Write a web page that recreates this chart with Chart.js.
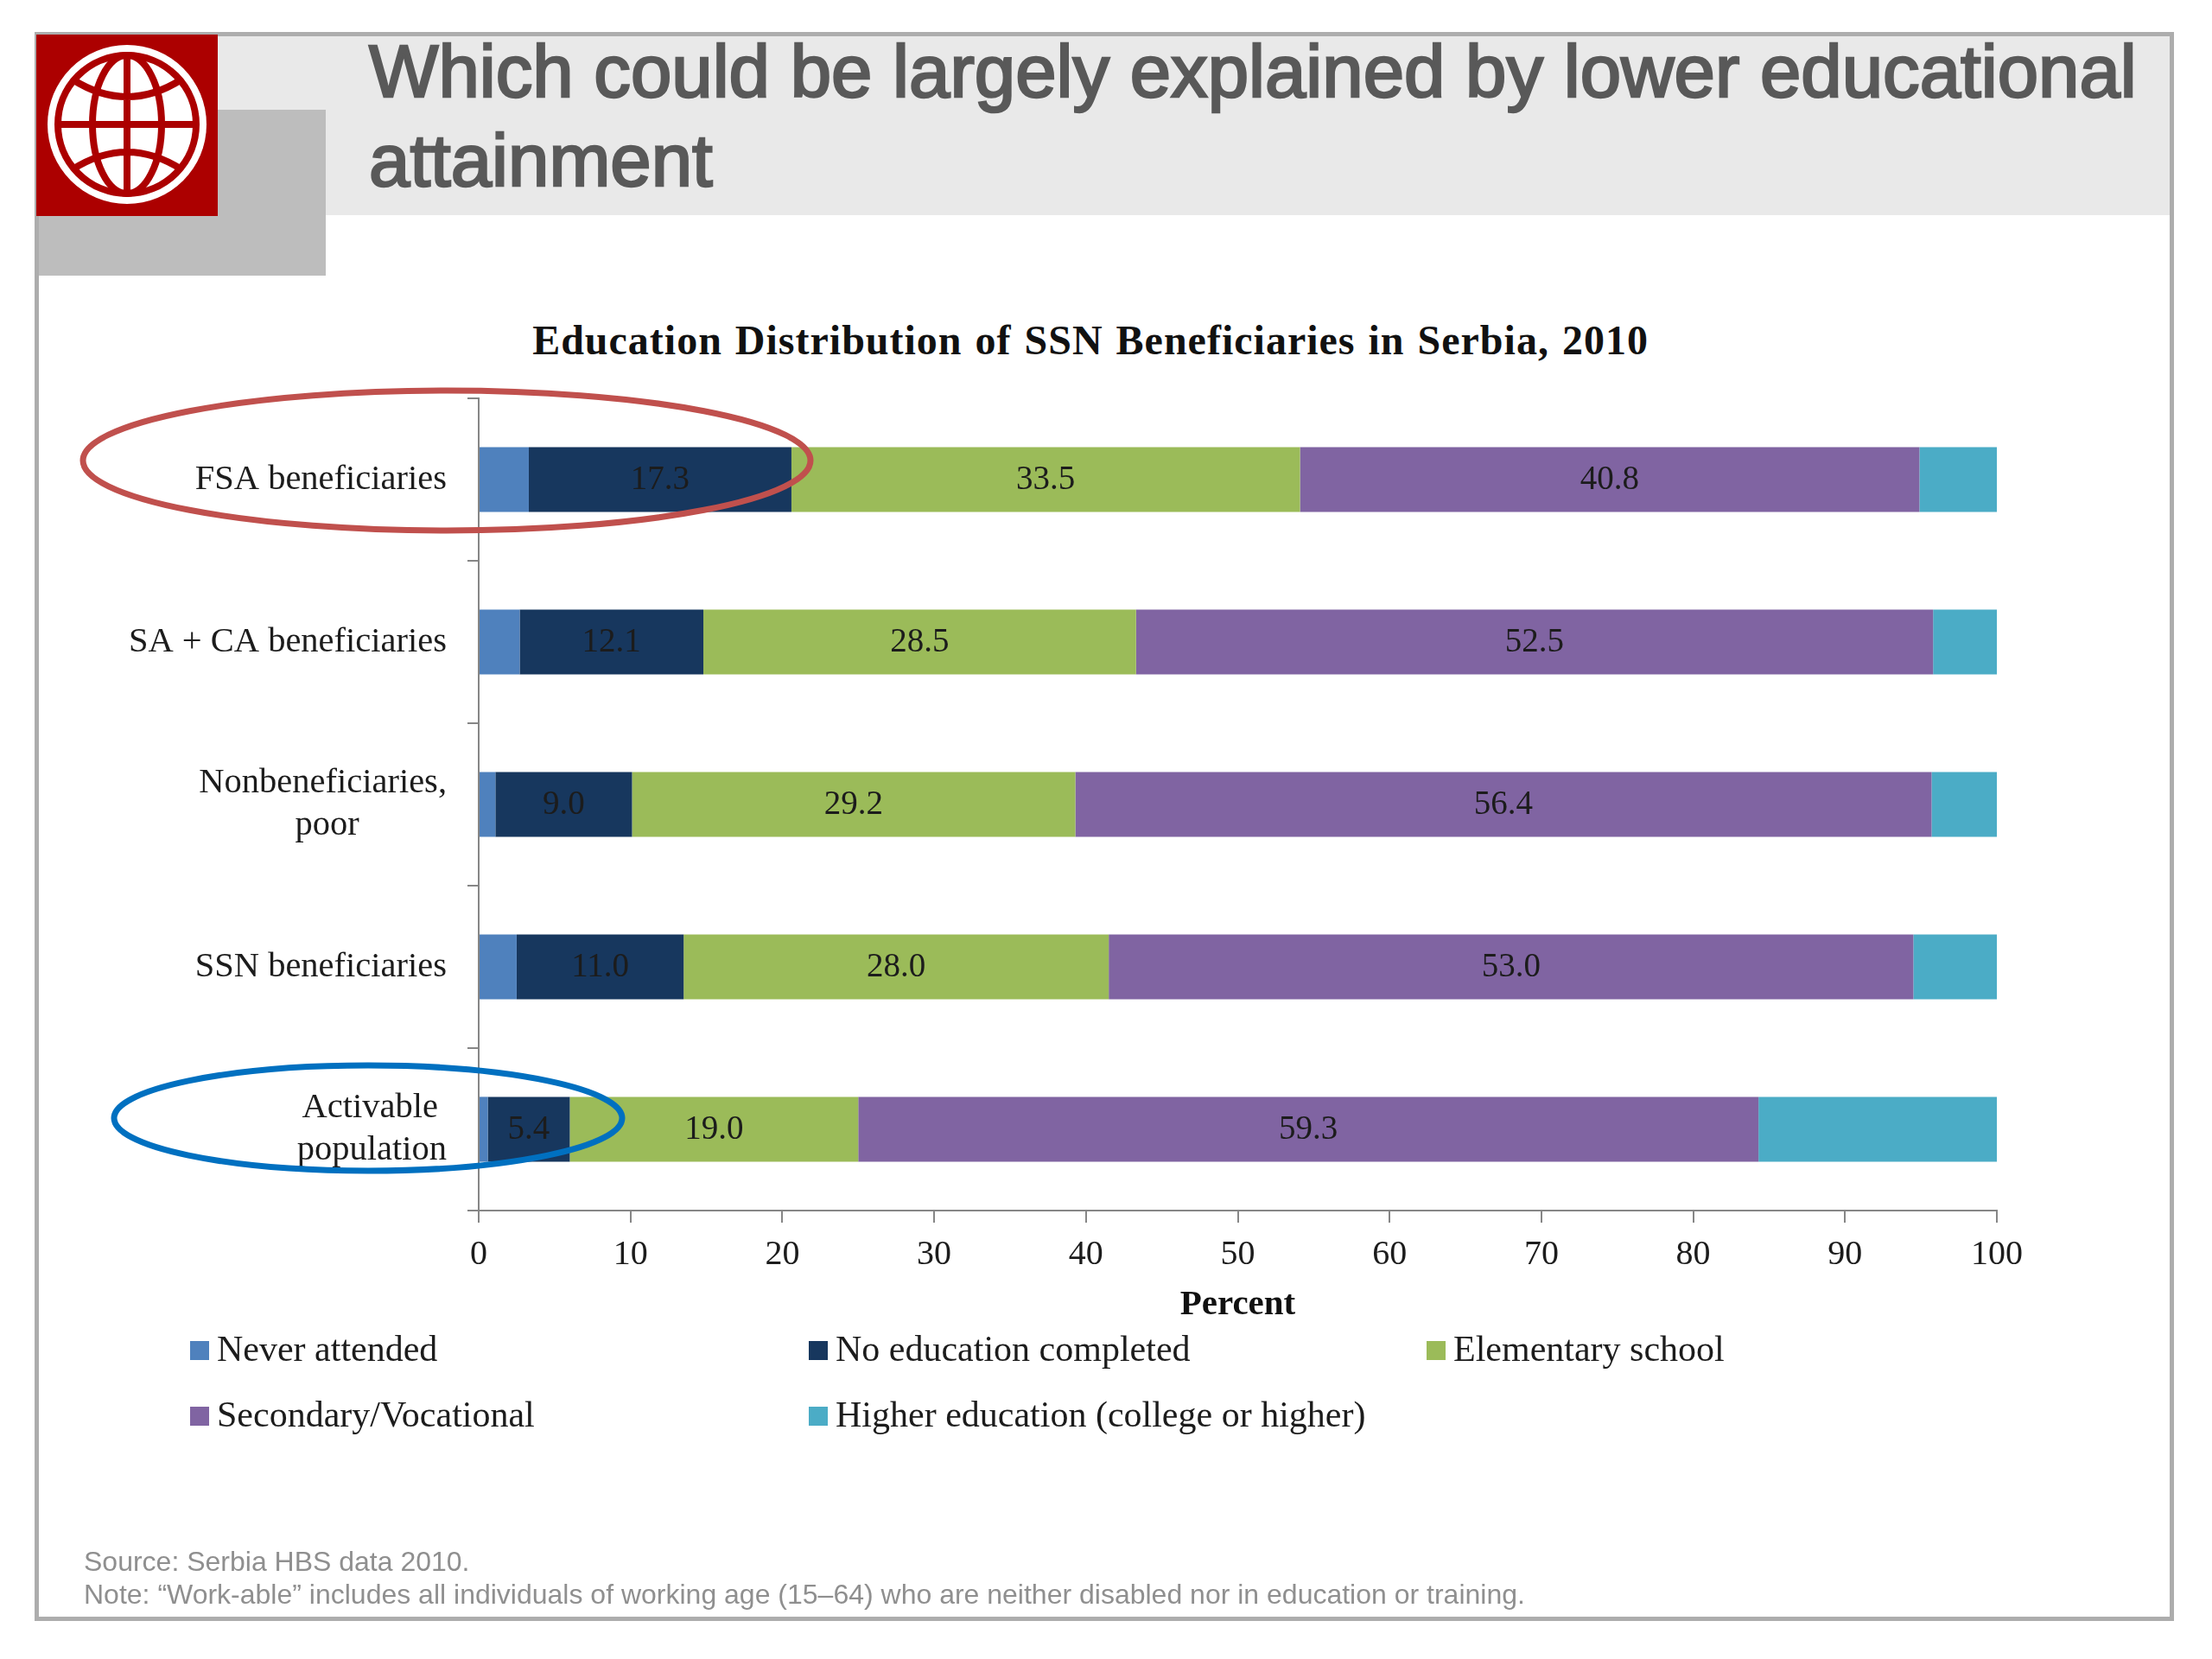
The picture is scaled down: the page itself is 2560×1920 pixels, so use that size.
<!DOCTYPE html>
<html>
<head>
<meta charset="utf-8">
<title>Education Distribution of SSN Beneficiaries in Serbia, 2010</title>
<script src="https://cdn.jsdelivr.net/npm/chart.js@4"></script>
<style>
  body { margin: 0; background: #fff; }
  #slide { position: relative; width: 2560px; height: 1920px; overflow: hidden; }
  #slide > * { position: absolute; }
  #frame { left: 40px; top: 37px; width: 2466px; height: 1829px; border: 5px solid #adadad; }
  #band { left: 252px; top: 42px; width: 2259px; height: 207px; background: #e9e9e9; }
  #tab { left: 45px; top: 127px; width: 332px; height: 192px; background: #bdbdbd; }
  #logo { left: 42px; top: 40px; width: 210px; height: 210px; }
  #heading { left: 427px; top: 31px; margin: 0; font: 400 85.2px/103px "Liberation Sans", sans-serif; color: #595959; white-space: nowrap; -webkit-text-stroke: 2.5px #595959; }
  #chartTitle { left: 0; width: 2524px; top: 366px; margin: 0; text-align: center; font: 700 48px/56px "Liberation Serif", serif; color: #111; letter-spacing: 1px; word-spacing: 2px; }
  #myChart { left: 0; top: 0; }
  #rings { left: 0; top: 0; width: 2560px; height: 1920px; pointer-events: none; }
  #notes { left: 97px; top: 1788px; font: 400 32px/38px "Liberation Sans", sans-serif; color: #8f8f8f; white-space: nowrap; }
</style>
</head>
<body>
<div id="slide">
  <div id="frame"></div>
  <div id="band"></div>
  <div id="tab"></div>
  <svg id="logo" viewBox="0 0 210 210">
    <rect width="210" height="210" fill="#ac0000"/>
    <circle cx="105" cy="104" r="92" fill="#fff"/>
    <circle cx="105" cy="104" r="80" fill="#fff" stroke="#ac0000" stroke-width="8"/>
    <g fill="none" stroke="#ac0000" stroke-width="8">
      <ellipse cx="105" cy="104" rx="40" ry="80"/>
      <path d="M105 24V184M25 104H185M42 52Q105 92 168 52M42 156Q105 116 168 156"/>
    </g>
  </svg>
  <h1 id="heading">Which could be largely explained by lower educational<br>attainment</h1>
  <h2 id="chartTitle">Education Distribution of SSN Beneficiaries in Serbia, 2010</h2>
  <canvas id="myChart" width="2560" height="1920"></canvas>
  <svg id="rings" viewBox="0 0 2560 1920">
    <ellipse cx="517" cy="533" rx="421" ry="81" fill="none" stroke="#c0504d" stroke-width="7"/>
    <ellipse cx="426" cy="1294" rx="294" ry="61" fill="none" stroke="#0070c0" stroke-width="7"/>
  </svg>
  <div id="notes">Source: Serbia HBS data 2010.<br>Note: “Work-able” includes all individuals of working age (15–64) who are neither disabled nor in education or training.</div>
</div>

<script>
'use strict';

const categories = [
  'FSA beneficiaries',
  'SA + CA beneficiaries',
  ['Nonbeneficiaries,', 'poor'],
  'SSN beneficiaries',
  ['Activable', 'population']
];
const neverAttended = [3.3, 2.7, 1.1, 2.5, 0.6];
const noEducation = [17.3, 12.1, 9.0, 11.0, 5.4];
const elementary = [33.5, 28.5, 29.2, 28.0, 19.0];
const secondary = [40.8, 52.5, 56.4, 53.0, 59.3];
const higher = [5.1, 4.2, 4.3, 5.5, 15.7];
const xTicks = [0, 10, 20, 30, 40, 50, 60, 70, 80, 90, 100];

const serif = '"Liberation Serif", serif';
const inkColor = '#1c1c1c';
const axisColor = '#868686';

// lines of a tick label are centred on each other, the block itself is right aligned
function centreLines(label, ctx) {
  if (!Array.isArray(label)) return label;
  ctx.save();
  ctx.font = '40.5px ' + serif;
  const widest = Math.max(...label.map(line => ctx.measureText(line).width));
  const space = ctx.measureText('\u00a0').width;
  const lines = label.map(line => {
    const pad = Math.round((widest - ctx.measureText(line).width) / 2 / space);
    return line + '\u00a0'.repeat(pad);
  });
  ctx.restore();
  return lines;
}

// value labels inside the bars, only where the dataset asks for it
const barValues = {
  id: 'barValues',
  afterDatasetsDraw(chart) {
    const ctx = chart.ctx;
    ctx.save();
    ctx.font = '39px ' + serif;
    ctx.fillStyle = inkColor;
    ctx.textAlign = 'center';
    ctx.textBaseline = 'middle';
    chart.data.datasets.forEach((dataset, i) => {
      if (!dataset.showValues) return;
      chart.getDatasetMeta(i).data.forEach((bar, j) => {
        const c = bar.getCenterPoint();
        ctx.fillText(dataset.data[j].toFixed(1), c.x, c.y + 1);
      });
    });
    ctx.restore();
  }
};

// legend sits on a fixed 3 column grid in the original
const gridLegend = {
  id: 'gridLegend',
  afterDraw(chart) {
    const ctx = chart.ctx;
    const columns = [220, 936, 1651];
    const rows = [1563, 1639];
    ctx.save();
    ctx.font = '42px ' + serif;
    ctx.textBaseline = 'middle';
    chart.data.datasets.forEach((dataset, i) => {
      const x = columns[i % 3];
      const y = rows[Math.floor(i / 3)];
      ctx.fillStyle = dataset.backgroundColor;
      ctx.fillRect(x, y - 11, 22, 22);
      ctx.fillStyle = inkColor;
      ctx.fillText(dataset.label, x + 31, y + 1);
    });
    ctx.restore();
  }
};

const canvas = document.getElementById('myChart');
const context = canvas.getContext('2d');

new Chart(canvas, {
  type: 'bar',
  data: {
    labels: categories,
    datasets: [
      { label: 'Never attended', data: neverAttended, backgroundColor: '#4f81bd' },
      { label: 'No education completed', data: noEducation, backgroundColor: '#17375e', showValues: true },
      { label: 'Elementary school', data: elementary, backgroundColor: '#9bbb59', showValues: true },
      { label: 'Secondary/Vocational', data: secondary, backgroundColor: '#8064a2', showValues: true },
      { label: 'Higher education (college or higher)', data: higher, backgroundColor: '#4bacc6' }
    ]
  },
  plugins: [barValues, gridLegend],
  options: {
    indexAxis: 'y',
    responsive: false,
    animation: false,
    devicePixelRatio: 1,
    barPercentage: 0.4,
    categoryPercentage: 1,
    layout: { padding: { top: 461, right: 249, bottom: 385, left: 0 } },
    plugins: {
      legend: { display: false },
      title: { display: false },
      tooltip: { enabled: false }
    },
    scales: {
      x: {
        stacked: true,
        min: 0,
        max: 100,
        afterFit(scale) { scale.height = 134; },
        afterBuildTicks(scale) { scale.ticks = xTicks.map(value => ({ value })); },
        grid: { drawOnChartArea: false, color: axisColor, lineWidth: 2, tickLength: 14 },
        border: { color: axisColor, width: 2 },
        ticks: { color: inkColor, padding: 13, maxRotation: 0, font: { family: serif, size: 40 } },
        title: {
          display: true,
          text: 'Percent',
          color: '#111',
          padding: 0,
          font: { family: serif, size: 41, weight: 'bold' }
        }
      },
      y: {
        stacked: true,
        afterFit(scale) { scale.width = 554; },
        grid: { drawOnChartArea: false, color: axisColor, lineWidth: 2, tickLength: 13 },
        border: { color: axisColor, width: 2 },
        ticks: {
          color: inkColor,
          padding: 24,
          autoSkip: false,
          callback(value) { return centreLines(this.getLabelForValue(value), context); },
          font: { family: serif, size: 40.5, lineHeight: 1.2 }
        }
      }
    }
  }
});
</script>
</body>
</html>
